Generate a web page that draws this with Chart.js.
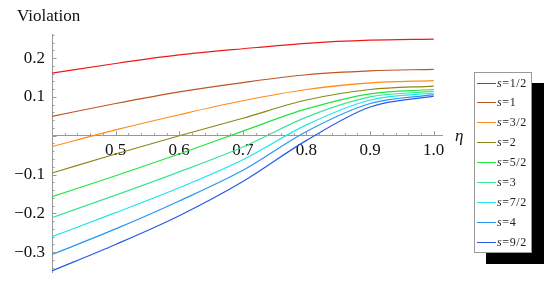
<!DOCTYPE html>
<html lang="en">
  <head>
    <meta charset="UTF-8" />
    <title>Violation vs eta</title>
    <script src="https://cdn.jsdelivr.net/npm/chart.js"></script>
    <style>
      body { margin: 0; background: #fff; }
      .wrap { position: relative; width: 554px; height: 290px; }
      .legend {
        position: absolute; left: 474px; top: 72px; width: 56px; height: 179px;
        border: 1px solid #999; background: #fff; box-shadow: 12px 11px 0 #000;
        font-family: "Liberation Serif", serif; font-size: 12px; color: #222;
      }
      .legend-row { position: absolute; left: 2px; height: 20px; display: flex; align-items: center; white-space: nowrap; letter-spacing: 0.6px; }
      .legend-line { width: 19px; height: 0; border-top: 1.3px solid; margin-right: 1px; }
    </style>
  </head>
  <body>
    <div class="wrap">
      <canvas id="chartCanvas" width="554" height="290"></canvas>
      <div class="legend" id="legend"></div>
    </div>

    <script>
      // x values (eta)
      const eta = [0.4, 0.5, 0.6, 0.7, 0.8, 0.9, 1.0];

      // violation for each spin
      const s1_2 = [0.161, 0.186, 0.208, 0.224, 0.238, 0.246, 0.249];
      const s1 = [0.05, 0.083, 0.113, 0.137, 0.157, 0.167, 0.171];
      const s3_2 = [-0.028, 0.015, 0.054, 0.09, 0.119, 0.136, 0.142];
      const s2 = [-0.096, -0.047, 0.0, 0.045, 0.092, 0.119, 0.128];
      const s5_2 = [-0.157, -0.103, -0.047, 0.012, 0.069, 0.108, 0.119];
      const s3 = [-0.211, -0.153, -0.093, -0.029, 0.048, 0.1, 0.114];
      const s7_2 = [-0.26, -0.198, -0.134, -0.062, 0.028, 0.092, 0.11];
      const s4 = [-0.306, -0.24, -0.168, -0.089, 0.011, 0.083, 0.106];
      const s9_2 = [-0.348, -0.28, -0.206, -0.118, -0.012, 0.074, 0.102];

      const seriesNames = ["1/2", "1", "3/2", "2", "5/2", "3", "7/2", "4", "9/2"];
      const seriesData = [s1_2, s1, s3_2, s2, s5_2, s3, s7_2, s4, s9_2];

      // y tick labels (0 is left out like the original)
      const yTickLabels = [-0.3, -0.2, -0.1, 0.1, 0.2];
      const xTickLabels = [0.5, 0.6, 0.7, 0.8, 0.9, 1.0];

      const colors = [
        "rgb(240,25,25)",
        "rgb(190,85,35)",
        "rgb(255,140,25)",
        "rgb(140,135,25)",
        "rgb(30,230,60)",
        "rgb(60,230,150)",
        "rgb(30,230,235)",
        "rgb(40,150,240)",
        "rgb(40,90,230)",
      ];

      const axisColor = "#999";
      const serif = "'Liberation Serif', 'Times New Roman', serif";

      // minor + major ticks drawn inward, labels and eta
      const mathTicks = {
        id: "mathTicks",
        afterDraw(chart) {
          const { ctx, scales } = chart;
          const xs = scales.x, ys = scales.y;
          const y0 = ys.getPixelForValue(0);
          const xLeft = xs.left;
          ctx.save();
          ctx.strokeStyle = axisColor;
          ctx.lineWidth = 1;
          ctx.beginPath();
          for (let i = 20; i <= 50; i++) {
            const px = Math.round(xs.getPixelForValue(i * 0.02)) + 0.5;
            const len = i % 5 === 0 ? 4.5 : 2.5;
            ctx.moveTo(px, y0);
            ctx.lineTo(px, y0 - len);
          }
          for (let i = -17; i <= 13; i++) {
            const py = Math.round(ys.getPixelForValue(i * 0.02)) + 0.5;
            const len = i % 5 === 0 ? 4.5 : 2.5;
            ctx.moveTo(xLeft, py);
            ctx.lineTo(xLeft + len, py);
          }
          ctx.stroke();

          ctx.fillStyle = "#111";
          ctx.font = "17px " + serif;
          ctx.textAlign = "left";
          ctx.textBaseline = "alphabetic";
          ctx.fillText("Violation", 17, 21);
          ctx.font = "italic 17px " + serif;
          ctx.fillText("η", 455, 141);
          ctx.restore();
        },
      };

      const datasets = seriesData.map((vals, k) => ({
        label: "s=" + seriesNames[k],
        data: vals.map((v, i) => ({ x: eta[i], y: v })),
        borderColor: colors[k],
        borderWidth: 1.2,
        pointRadius: 0,
        fill: false,
        cubicInterpolationMode: "monotone",
      }));

      const fmt = (v) => (v < 0 ? "\u2212" : "") + Math.abs(v).toFixed(1);

      new Chart(document.getElementById("chartCanvas"), {
        type: "line",
        data: { datasets },
        options: {
          responsive: false,
          animation: false,
          devicePixelRatio: 1,
          layout: { padding: { left: 0, right: 112, top: 34, bottom: 15 } },
          plugins: { legend: { display: false }, tooltip: { enabled: false } },
          scales: {
            x: {
              type: "linear",
              min: 0.4,
              max: 1.013,
              position: { y: 0 },
              grid: { display: false, drawTicks: false },
              border: { color: axisColor, width: 1 },
              ticks: {
                stepSize: 0.1,
                includeBounds: false,
                padding: 5,
                maxRotation: 0,
                autoSkip: false,
                color: "#111",
                font: { family: serif, size: 17 },
                callback: (v) => {
                  const r = Math.round(v * 10) / 10;
                  return xTickLabels.includes(r) ? r.toFixed(1) : "";
                },
              },
            },
            y: {
              min: -0.353,
              max: 0.262,
              afterFit: (s) => { s.width = 52; },
              grid: { display: false, drawTicks: false },
              border: { color: axisColor, width: 1 },
              ticks: {
                stepSize: 0.1,
                includeBounds: false,
                padding: 7,
                color: "#111",
                font: { family: serif, size: 17 },
                callback: (v) => {
                  const r = Math.round(v * 10) / 10;
                  return yTickLabels.includes(r) ? fmt(r) : "";
                },
              },
            },
          },
        },
        plugins: [mathTicks],
      });

      // legend box
      const legend = document.getElementById("legend");
      seriesNames.forEach((name, k) => {
        const row = document.createElement("div");
        row.className = "legend-row";
        row.style.top = (19.9 * k) + "px";
        row.innerHTML = `<span class="legend-line" style="border-color:${colors[k]}"></span><i>s</i>=${name}`;
        legend.appendChild(row);
      });
    </script>
  </body>
</html>
